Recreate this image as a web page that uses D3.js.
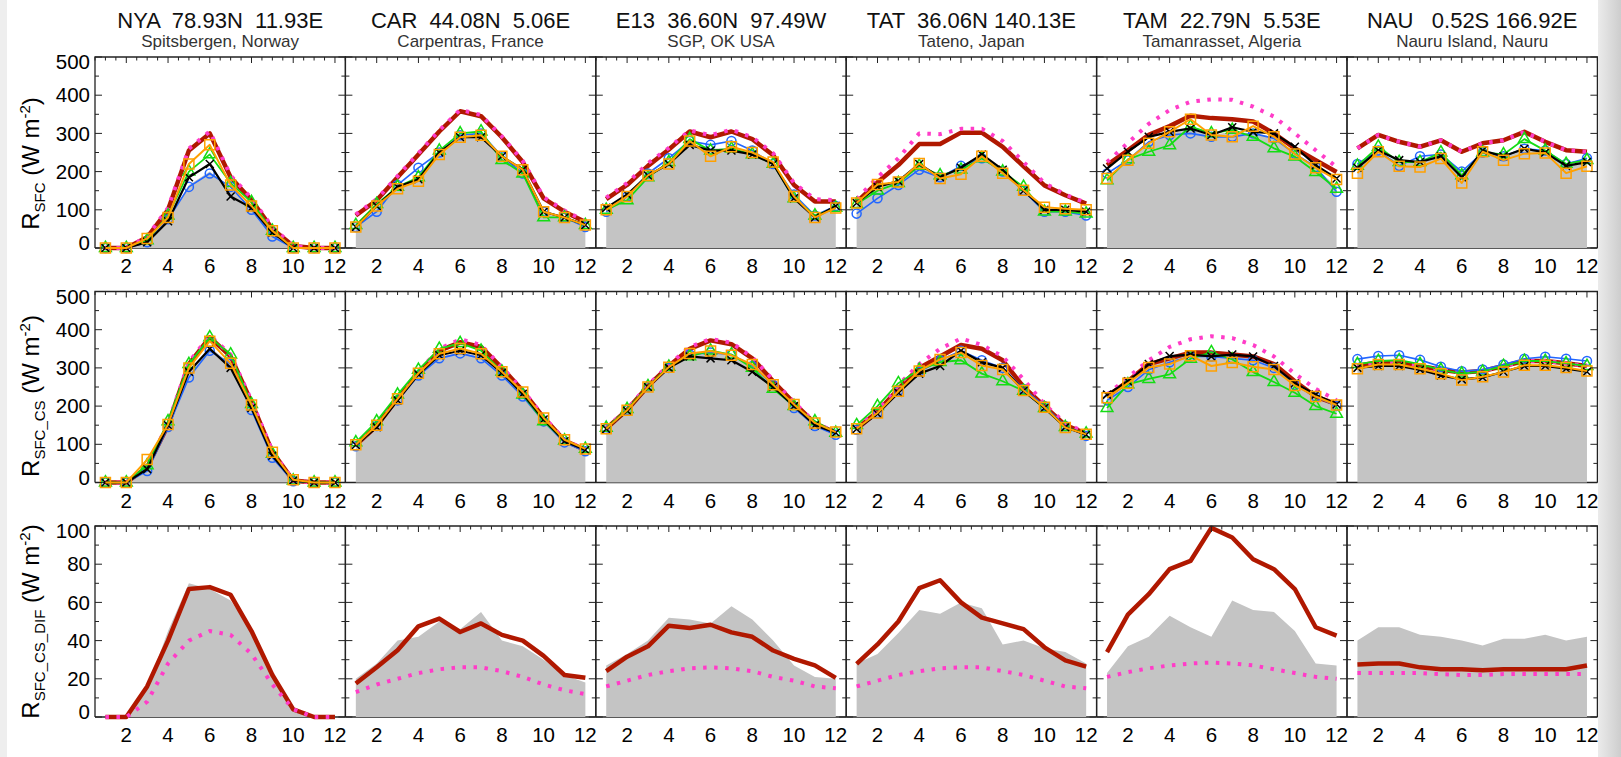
<!DOCTYPE html>
<html>
<head>
<meta charset="utf-8">
<script src="https://cdn.jsdelivr.net/npm/d3@7"></script>
<style>
  body { margin: 0; background: #fff; }
  text { font-family: "Liberation Sans", Arial, sans-serif; }
</style>
</head>
<body>
<div id="chart"></div>
<script>
// station headers
const stationTitles = ['NYA  78.93N  11.93E', 'CAR  44.08N  5.06E', 'E13  36.60N  97.49W', 'TAT  36.06N 140.13E', 'TAM  22.79N  5.53E', 'NAU   0.52S 166.92E']
const stationPlaces = ['Spitsbergen, Norway', 'Carpentras, France', 'SGP, OK USA', 'Tateno, Japan', 'Tamanrasset, Algeria', 'Nauru Island, Nauru']
const months = d3.range(1, 13)
const monthLabels = [2, 4, 6, 8, 10, 12]

// Row 1: R_SFC (one array per station, months 1..12)
const sfcGray = [
  [0, 0, 15, 75, 165, 200, 155, 105, 35, 0, 0, 0],
  [55, 105, 160, 185, 255, 290, 300, 235, 200, 95, 80, 55],
  [100, 135, 190, 225, 275, 260, 262, 250, 225, 135, 85, 108],
  [115, 155, 175, 215, 190, 210, 240, 205, 150, 100, 100, 90],
  [180, 230, 270, 300, 310, 295, 305, 300, 290, 250, 210, 160],
  [220, 250, 225, 230, 245, 195, 250, 240, 265, 250, 215, 225]
]
const sfcRed = [
  [0, 0, 28, 100, 255, 300, 185, 125, 50, 5, 0, 0],
  [85, 125, 185, 245, 305, 358, 345, 290, 225, 130, 95, 68],
  [128, 165, 215, 258, 305, 290, 305, 285, 243, 165, 122, 122],
  [120, 172, 217, 272, 272, 302, 302, 265, 214, 164, 138, 116],
  [217, 256, 296, 319, 346, 340, 337, 331, 300, 261, 230, 199],
  [261, 296, 278, 265, 282, 252, 274, 282, 304, 278, 256, 252]
]
const sfcPink = [
  [0, 0, 30, 105, 260, 305, 190, 130, 55, 5, 0, 0],
  [88, 128, 188, 248, 308, 362, 348, 292, 228, 133, 98, 70],
  [132, 170, 222, 262, 308, 295, 310, 290, 248, 170, 128, 125],
  [128, 185, 235, 300, 298, 312, 312, 280, 225, 170, 140, 118],
  [225, 275, 325, 361, 383, 389, 388, 370, 344, 300, 256, 212],
  [261, 296, 278, 265, 282, 252, 274, 282, 304, 278, 256, 252]
]
const sfcBlue = [
  [0, 0, 15, 75, 160, 195, 160, 100, 30, 0, 0, 0],
  [55, 95, 165, 210, 250, 295, 300, 240, 195, 95, 80, 55],
  [95, 135, 195, 235, 280, 270, 280, 255, 220, 140, 85, 110],
  [90, 130, 165, 205, 185, 215, 235, 200, 150, 95, 95, 85],
  [195, 230, 278, 296, 300, 291, 291, 300, 287, 247, 212, 147],
  [220, 255, 215, 240, 245, 200, 250, 240, 260, 255, 220, 235]
]
const sfcGreen = [
  [0, 0, 20, 85, 200, 245, 170, 120, 45, 0, 0, 0],
  [60, 115, 160, 185, 255, 300, 305, 230, 195, 80, 80, 60],
  [100, 125, 185, 225, 285, 255, 260, 245, 220, 130, 85, 105],
  [115, 150, 170, 215, 190, 205, 235, 200, 160, 95, 95, 90],
  [177, 232, 252, 269, 318, 300, 309, 291, 261, 239, 199, 155],
  [215, 265, 225, 225, 250, 190, 250, 245, 285, 255, 220, 230]
]
const sfcBlack = [
  [0, 0, 15, 70, 185, 220, 135, 105, 40, 0, 0, 0],
  [55, 110, 160, 180, 250, 290, 290, 240, 205, 95, 80, 60],
  [105, 140, 190, 220, 270, 255, 255, 245, 220, 130, 80, 110],
  [118, 160, 175, 220, 185, 210, 245, 205, 150, 100, 100, 95],
  [208, 252, 291, 304, 313, 296, 316, 304, 300, 265, 217, 182],
  [210, 255, 230, 225, 240, 185, 255, 240, 260, 250, 215, 225]
]
const sfcOrange = [
  [0, 0, 25, 80, 220, 270, 165, 110, 45, 0, 0, 0],
  [55, 110, 155, 175, 245, 290, 295, 240, 205, 95, 80, 60],
  [100, 135, 190, 220, 280, 240, 265, 250, 225, 135, 80, 105],
  [118, 166, 173, 221, 182, 193, 240, 196, 151, 107, 103, 100],
  [182, 230, 274, 304, 337, 296, 291, 319, 291, 246, 210, 179],
  [196, 252, 214, 212, 234, 170, 252, 230, 247, 249, 196, 214]
]

// Row 2: R_SFC_CS
const csGray = [
  [0, 0, 40, 150, 290, 355, 310, 200, 70, 3, 0, 0],
  [95, 145, 215, 283, 330, 340, 330, 283, 230, 163, 107, 84],
  [140, 190, 250, 300, 335, 340, 335, 305, 255, 200, 150, 128],
  [140, 185, 240, 295, 320, 345, 320, 300, 245, 198, 147, 125],
  [220, 260, 305, 325, 340, 345, 340, 330, 310, 265, 230, 205],
  [295, 305, 305, 295, 285, 270, 280, 290, 305, 305, 298, 290]
]
const csRed = [
  [0, 0, 40, 150, 310, 380, 330, 210, 80, 5, 0, 0],
  [98, 148, 220, 288, 345, 367, 355, 300, 240, 170, 110, 85],
  [141, 190, 252, 305, 350, 372, 362, 325, 265, 208, 155, 130],
  [140, 185, 245, 300, 330, 360, 350, 320, 250, 200, 150, 128],
  [225, 265, 310, 325, 340, 340, 335, 330, 310, 265, 225, 205],
  [305, 315, 315, 305, 295, 288, 292, 305, 318, 318, 312, 305]
]
const csPink = [
  [0, 0, 42, 155, 315, 385, 335, 215, 82, 5, 0, 0],
  [100, 150, 222, 290, 350, 375, 360, 302, 242, 172, 112, 86],
  [143, 192, 255, 308, 355, 376, 366, 328, 268, 210, 157, 131],
  [145, 190, 255, 310, 350, 377, 360, 330, 270, 205, 155, 130],
  [230, 275, 320, 355, 375, 383, 378, 360, 330, 285, 245, 215],
  [305, 315, 315, 305, 295, 288, 292, 305, 318, 318, 312, 305]
]
const csBlue = [
  [0, 0, 30, 145, 275, 345, 310, 190, 65, 3, 0, 0],
  [95, 148, 215, 280, 325, 338, 325, 280, 225, 160, 105, 82],
  [140, 190, 250, 300, 335, 340, 335, 305, 255, 195, 148, 125],
  [138, 182, 240, 290, 320, 345, 320, 300, 245, 200, 148, 122],
  [215, 250, 295, 315, 330, 330, 325, 320, 300, 255, 225, 200],
  [323, 331, 333, 321, 303, 291, 296, 309, 324, 329, 324, 318]
]
const csGreen = [
  [0, 0, 45, 160, 310, 380, 335, 205, 75, 5, 0, 0],
  [105, 160, 230, 295, 350, 365, 345, 290, 230, 160, 110, 88],
  [143, 192, 252, 303, 330, 345, 335, 300, 245, 200, 160, 130],
  [150, 200, 260, 295, 315, 320, 285, 265, 240, 195, 145, 128],
  [195, 257, 271, 283, 324, 341, 322, 289, 263, 235, 200, 180],
  [310, 318, 320, 310, 295, 285, 290, 305, 318, 318, 312, 305]
]
const csBlack = [
  [0, 0, 35, 150, 290, 350, 300, 195, 70, 5, 0, 0],
  [98, 145, 215, 283, 333, 345, 333, 287, 232, 165, 108, 85],
  [140, 188, 250, 300, 330, 325, 320, 290, 250, 200, 150, 130],
  [140, 180, 235, 285, 305, 345, 315, 300, 240, 195, 145, 125],
  [230, 265, 310, 331, 335, 330, 335, 330, 305, 260, 230, 205],
  [300, 305, 305, 295, 280, 270, 275, 290, 305, 305, 298, 290]
]
const csOrange = [
  [0, 0, 60, 152, 300, 370, 312, 203, 79, 7, 0, 0],
  [99, 150, 219, 286, 337, 351, 337, 290, 237, 169, 112, 88],
  [141, 189, 250, 302, 338, 344, 333, 309, 256, 204, 156, 132],
  [141, 182, 239, 292, 322, 340, 306, 296, 241, 197, 144, 126],
  [222, 260, 301, 310, 332, 305, 314, 303, 296, 254, 225, 203],
  [298, 309, 309, 298, 285, 268, 277, 289, 307, 307, 301, 292]
]

// Row 3: R_SFC_CS_DIF
const difGray = [
  [0, 0, 15, 45, 70, 67, 61, 45, 22, 3, 0, 0],
  [20, 28, 40, 42, 50, 46, 55, 40, 37, 30, 22, 18],
  [27, 33, 40, 52, 51, 49, 58, 51, 40, 27, 21, 20],
  [28, 33, 44, 56, 54, 60, 57, 38, 40, 36, 34, 28],
  [23, 37, 42, 53, 47, 42, 61, 56, 55, 45, 28, 27],
  [40, 47, 47, 43, 42, 40, 37.5, 41, 41, 43, 40, 42]
]
const difRed = [
  [0, 0, 16, 40, 67, 68, 64, 45, 22, 4, 0, 0],
  [17.5, 26, 35, 47.5, 51.5, 44.5, 49, 43, 40, 32, 22, 20.5],
  [24, 31.6, 37, 47.8, 46.6, 48.3, 44.3, 42, 34.8, 30.4, 27, 20.5],
  [27.8, 38, 50, 67.5, 71.6, 60, 52, 49, 46, 36.5, 29.6, 26.4],
  [34, 53.6, 64.3, 77.4, 81.7, 99, 94, 82.6, 77.4, 67, 47, 42.6],
  [27.5, 28, 28, 26, 25, 25, 24.5, 25, 25, 25, 25, 27]
]
const difPink = [
  [0, 0, 8, 28, 40, 45, 43, 33, 17, 4, 0, 0],
  [13, 17, 20, 23, 25, 26, 26, 24, 21, 17, 14, 12],
  [16, 19, 22, 24, 25.5, 26, 25.5, 24, 21, 19, 16, 15],
  [16, 19, 22, 24, 25.5, 26, 26, 24, 22, 19, 16, 15],
  [21, 23.5, 25.5, 27, 28, 28.5, 28, 27, 25, 23, 21, 20],
  [23, 23, 23, 23, 22.5, 22, 22, 22.5, 22.5, 22.5, 22.5, 22.5]
]

const rows = [
  { sub: 'SFC', max: 500, major: 100, minor: 50, shift: 11, gray: sfcGray, red: sfcRed, pink: sfcPink, blue: sfcBlue, green: sfcGreen, black: sfcBlack, orange: sfcOrange },
  { sub: 'SFC_CS', max: 500, major: 100, minor: 50, shift: 9, gray: csGray, red: csRed, pink: csPink, blue: csBlue, green: csGreen, black: csBlack, orange: csOrange },
  { sub: 'SFC_CS_DIF', max: 100, major: 20, minor: 10, shift: 0, gray: difGray, red: difRed, pink: difPink }
]

// marker shape for the black series
const symbolX = {
  draw (context, size) {
    const r = Math.sqrt(size) / 2
    context.moveTo(-r, -r); context.lineTo(r, r)
    context.moveTo(r, -r); context.lineTo(-r, r)
  }
}
const styles = {
  red: { color: '#b01800', width: 4.5 },
  pink: { color: '#ff3cc8', width: 4, dash: '3.5,7.5' },
  blue: { color: '#2266ff', width: 1.6, symbol: d3.symbolCircle, size: 64 },
  green: { color: '#14dc14', width: 1.8, symbol: d3.symbolTriangle, size: 60 },
  black: { color: '#000000', width: 2.2, symbol: symbolX, size: 64 },
  orange: { color: '#ffa000', width: 2, symbol: d3.symbolSquare, size: 100 }
}
const order = ['red', 'pink', 'blue', 'green', 'black', 'orange']

const width = 1621
const height = 757
const margin = { left: 95, top: 57 }
const panelW = 250.4
const panelH = 191
const rowGap = 43.5
const tickFont = '20.5px'

const svg = d3.select('#chart').append('svg')
  .attr('width', width)
  .attr('height', height)

const x = d3.scaleLinear().domain([0.5, 12.5]).range([0, panelW])

// Station titles
stationTitles.forEach((t, c) => {
  const cx = margin.left + c * panelW + panelW / 2
  svg.append('text')
    .attr('x', cx).attr('y', 28)
    .attr('text-anchor', 'middle')
    .style('font-size', '22px')
    .style('white-space', 'pre')
    .attr('fill', '#111')
    .text(t)
  svg.append('text')
    .attr('x', cx).attr('y', 47)
    .attr('text-anchor', 'middle')
    .style('font-size', '17px')
    .attr('fill', '#333')
    .text(stationPlaces[c])
})

rows.forEach((row, r) => {
  const top = margin.top + r * (panelH + rowGap)
  const y = d3.scaleLinear().domain([0, row.max]).range([panelH, 0])
  const majorY = d3.range(0, row.max + 0.01, row.major)
  const minorY = d3.range(0, row.max + 0.01, row.minor)

  // Y axis title
  const title = svg.append('text')
    .attr('transform', `translate(38.5,${top + panelH / 2 + row.shift}) rotate(-90)`)
    .attr('text-anchor', 'middle')
    .style('font-size', '24px')
  title.append('tspan').text('R')
  title.append('tspan').attr('dy', 6).style('font-size', '15px').text(row.sub)
  title.append('tspan').attr('dy', -6).text(' (W m')
  title.append('tspan').attr('dy', -9).style('font-size', '15px').text('-2')
  title.append('tspan').attr('dy', 9).text(')')

  // Y tick labels (left column only); end labels sit a little inside the frame
  svg.append('g')
    .selectAll('text')
    .data(majorY)
    .enter().append('text')
    .attr('x', margin.left - 5)
    .attr('y', d => top + y(d))
    .attr('dy', (d, i) => i === 0 ? '0.1em' : (i === majorY.length - 1 ? '0.6em' : '0.35em'))
    .attr('text-anchor', 'end')
    .style('font-size', tickFont)
    .text(d => d)

  for (let c = 0; c < 6; c++) {
    const g = svg.append('g').attr('transform', `translate(${margin.left + c * panelW},${top})`)

    // bottom axis (mostly hidden by the gray fill)
    g.append('line').attr('x1', 0).attr('x2', panelW).attr('y1', panelH).attr('y2', panelH)
      .attr('stroke', '#222').attr('stroke-width', 1.3)

    // gray filled area
    const area = d3.area()
      .x((d, i) => x(months[i]))
      .y0(y(0))
      .y1(d => y(d))
    g.append('path')
      .attr('d', area(row.gray[c]))
      .attr('fill', '#c4c4c4')

    // series lines and markers
    order.forEach(key => {
      if (!row[key]) return
      const s = styles[key]
      const values = row[key][c]
      const line = d3.line().x((d, i) => x(months[i])).y(d => y(d))
      g.append('path')
        .attr('d', line(values))
        .attr('fill', 'none')
        .attr('stroke', s.color)
        .attr('stroke-width', s.width)
        .attr('stroke-dasharray', s.dash || null)
        .attr('stroke-linejoin', 'round')
      if (s.symbol) {
        g.append('g')
          .selectAll('path')
          .data(values)
          .enter().append('path')
          .attr('transform', (d, i) => `translate(${x(months[i])},${y(d)})`)
          .attr('d', d3.symbol().type(s.symbol).size(s.size))
          .attr('fill', 'none')
          .attr('stroke', s.color)
          .attr('stroke-width', 1.5)
      }
    })

    // frame: top, left, right
    g.append('path')
      .attr('d', d3.line()([[0, panelH], [0, 0], [panelW, 0], [panelW, panelH]]))
      .attr('fill', 'none').attr('stroke', '#222').attr('stroke-width', 1.3)

    // top ticks, pointing inward
    g.append('g').selectAll('line')
      .data(d3.range(0.5, 12.51, 0.5))
      .enter().append('line')
      .attr('x1', d => x(d)).attr('x2', d => x(d))
      .attr('y1', 0).attr('y2', d => d % 2 === 0 ? 6 : 3.5)
      .attr('stroke', '#222')

    // left / right ticks, pointing inward
    g.append('g').selectAll('line')
      .data(minorY)
      .enter().append('line')
      .attr('x1', 0).attr('x2', d => d % row.major === 0 ? 7 : 4)
      .attr('y1', d => y(d)).attr('y2', d => y(d))
      .attr('stroke', '#222')
    g.append('g').selectAll('line')
      .data(minorY)
      .enter().append('line')
      .attr('x1', panelW).attr('x2', d => panelW - (d % row.major === 0 ? 7 : 4))
      .attr('y1', d => y(d)).attr('y2', d => y(d))
      .attr('stroke', '#222')

    // month labels
    g.append('g').selectAll('text')
      .data(monthLabels)
      .enter().append('text')
      .attr('x', d => x(d))
      .attr('y', panelH + 25)
      .attr('text-anchor', 'middle')
      .style('font-size', tickFont)
      .text(d => d)
  }
})

// slide background strips at the edges (drawn last, they clip the outermost labels)
const defs = svg.append('defs')
const grad = defs.append('linearGradient').attr('id', 'edge').attr('x1', 0).attr('x2', 1)
grad.append('stop').attr('offset', 0).attr('stop-color', '#ebebeb')
grad.append('stop').attr('offset', 1).attr('stop-color', '#cdcdcd')
svg.append('rect').attr('x', 0).attr('y', 0).attr('width', 7).attr('height', height).attr('fill', '#eeeeee')
svg.append('rect').attr('x', 1598).attr('y', 0).attr('width', width - 1598).attr('height', height).attr('fill', 'url(#edge)')
</script>
</body>
</html>
